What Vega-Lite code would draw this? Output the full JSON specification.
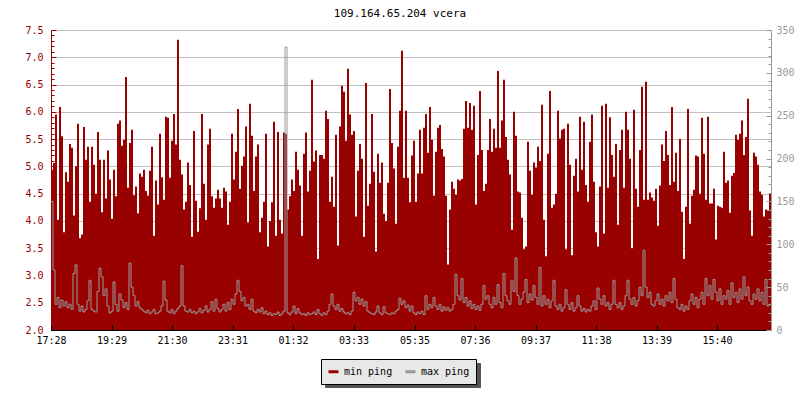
{
"$schema": "https://vega.github.io/schema/vega-lite/v6.json",
"width": 720, "height": 300,
"autosize": {"type": "none"},
"padding": {"left": 51, "top": 30, "right": 29, "bottom": 70},
"background": "white",
"config": {"view": {"stroke": null}},
"title": {"text": "109.164.65.204 vcera", "font": "DejaVu Sans Mono", "fontSize": 11, "fontWeight": "normal", "color": "black", "anchor": "middle", "frame": "group", "baseline": "middle", "offset": 0, "dx": -11},
"data": {"values": [
{"m":0,"min":4.94,"max":150},{"m":4,"min":5.06,"max":70},{"m":8,"min":5.95,"max":30},{"m":12,"min":4.02,"max":38},{"m":16,"min":6.09,"max":26},{"m":20,"min":5.55,"max":35},{"m":24,"min":3.79,"max":28},{"m":28,"min":4.89,"max":33},{"m":32,"min":4.72,"max":26},{"m":36,"min":5.41,"max":30},
{"m":40,"min":5.34,"max":24},{"m":44,"min":4.1,"max":66},{"m":48,"min":5.0,"max":76},{"m":52,"min":5.78,"max":30},{"m":56,"min":3.68,"max":22},{"m":60,"min":3.75,"max":28},{"m":64,"min":5.72,"max":21},{"m":68,"min":5.12,"max":24},{"m":72,"min":5.36,"max":34},{"m":76,"min":4.35,"max":58},
{"m":80,"min":5.36,"max":24},{"m":84,"min":5.03,"max":22},{"m":88,"min":4.5,"max":21},{"m":92,"min":5.63,"max":45},{"m":96,"min":5.12,"max":72},{"m":100,"min":4.16,"max":62},{"m":104,"min":5.12,"max":40},{"m":108,"min":4.41,"max":48},{"m":112,"min":5.29,"max":28},{"m":116,"min":4.76,"max":20},
{"m":120,"min":4.04,"max":22},{"m":124,"min":4.94,"max":56},{"m":128,"min":4.45,"max":30},{"m":132,"min":5.78,"max":22},{"m":136,"min":5.84,"max":42},{"m":140,"min":5.38,"max":35},{"m":144,"min":5.49,"max":26},{"m":148,"min":6.64,"max":32},{"m":152,"min":4.61,"max":24},{"m":156,"min":5.43,"max":78},
{"m":160,"min":5.67,"max":50},{"m":164,"min":4.47,"max":40},{"m":168,"min":4.63,"max":28},{"m":172,"min":4.14,"max":33},{"m":176,"min":4.87,"max":26},{"m":180,"min":4.81,"max":24},{"m":184,"min":4.94,"max":22},{"m":188,"min":4.55,"max":20},{"m":192,"min":4.46,"max":23},{"m":196,"min":4.92,"max":19},
{"m":200,"min":5.36,"max":21},{"m":204,"min":3.73,"max":24},{"m":208,"min":4.74,"max":19},{"m":212,"min":4.3,"max":20},{"m":216,"min":5.6,"max":22},{"m":220,"min":4.8,"max":28},{"m":224,"min":4.39,"max":57},{"m":228,"min":5.91,"max":35},{"m":232,"min":5.89,"max":22},{"m":236,"min":4.79,"max":20},
{"m":240,"min":5.47,"max":24},{"m":244,"min":5.96,"max":19},{"m":248,"min":5.4,"max":22},{"m":252,"min":7.32,"max":25},{"m":256,"min":5.12,"max":28},{"m":260,"min":4.85,"max":75},{"m":264,"min":4.21,"max":28},{"m":268,"min":4.35,"max":22},{"m":272,"min":5.07,"max":21},{"m":276,"min":4.66,"max":24},
{"m":280,"min":3.71,"max":20},{"m":284,"min":5.65,"max":22},{"m":288,"min":4.37,"max":19},{"m":292,"min":3.8,"max":21},{"m":296,"min":4.23,"max":25},{"m":300,"min":5.96,"max":20},{"m":304,"min":4.68,"max":23},{"m":308,"min":4.02,"max":28},{"m":312,"min":5.4,"max":21},{"m":316,"min":5.69,"max":24},
{"m":320,"min":4.45,"max":33},{"m":324,"min":4.24,"max":22},{"m":328,"min":4.41,"max":36},{"m":332,"min":4.57,"max":25},{"m":336,"min":4.41,"max":21},{"m":340,"min":4.24,"max":24},{"m":344,"min":4.61,"max":30},{"m":348,"min":4.54,"max":22},{"m":352,"min":3.93,"max":32},{"m":356,"min":4.35,"max":24},
{"m":360,"min":5.6,"max":36},{"m":364,"min":4.76,"max":30},{"m":368,"min":5.27,"max":42},{"m":372,"min":6.05,"max":58},{"m":376,"min":4.59,"max":45},{"m":380,"min":5.01,"max":34},{"m":384,"min":5.18,"max":38},{"m":388,"min":5.73,"max":28},{"m":392,"min":3.97,"max":30},{"m":396,"min":6.15,"max":24},
{"m":400,"min":5.56,"max":36},{"m":404,"min":4.55,"max":22},{"m":408,"min":5.18,"max":20},{"m":412,"min":5.4,"max":24},{"m":416,"min":3.79,"max":21},{"m":420,"min":4.06,"max":26},{"m":424,"min":4.35,"max":19},{"m":428,"min":5.6,"max":22},{"m":432,"min":3.53,"max":18},{"m":436,"min":4.0,"max":20},
{"m":440,"min":4.34,"max":17},{"m":444,"min":5.82,"max":19},{"m":448,"min":3.73,"max":18},{"m":452,"min":5.63,"max":21},{"m":456,"min":4.02,"max":17},{"m":460,"min":3.77,"max":19},{"m":464,"min":5.62,"max":22},{"m":468,"min":5.6,"max":330},{"m":472,"min":4.21,"max":20},{"m":476,"min":4.45,"max":18},
{"m":480,"min":4.76,"max":21},{"m":484,"min":4.55,"max":28},{"m":488,"min":5.27,"max":19},
{"m":492,"min":4.94,"max":25},{"m":496,"min":4.65,"max":20},{"m":500,"min":3.73,"max":18},{"m":504,"min":5.23,"max":19},{"m":508,"min":5.62,"max":17},{"m":512,"min":4.54,"max":20},{"m":516,"min":4.92,"max":18},{"m":520,"min":6.59,"max":19},{"m":524,"min":5.09,"max":21},{"m":528,"min":5.29,"max":18},
{"m":532,"min":3.3,"max":24},{"m":536,"min":5.21,"max":19},{"m":540,"min":5.21,"max":17},{"m":544,"min":5.14,"max":20},{"m":548,"min":6.02,"max":18},{"m":552,"min":5.87,"max":22},{"m":556,"min":4.35,"max":30},{"m":560,"min":4.81,"max":42},{"m":564,"min":4.26,"max":28},{"m":568,"min":5.58,"max":24},
{"m":572,"min":3.55,"max":30},{"m":576,"min":5.73,"max":22},{"m":580,"min":6.48,"max":25},{"m":584,"min":6.37,"max":21},{"m":588,"min":5.47,"max":19},{"m":592,"min":6.79,"max":20},{"m":596,"min":5.95,"max":18},{"m":600,"min":5.58,"max":22},{"m":604,"min":5.65,"max":44},{"m":608,"min":4.08,"max":34},
{"m":612,"min":4.92,"max":38},{"m":616,"min":5.41,"max":30},{"m":620,"min":5.14,"max":36},{"m":624,"min":3.71,"max":28},{"m":628,"min":6.53,"max":33},{"m":632,"min":4.28,"max":22},{"m":636,"min":4.68,"max":20},{"m":640,"min":5.96,"max":19},{"m":644,"min":4.9,"max":18},{"m":648,"min":3.44,"max":21},
{"m":652,"min":5.23,"max":28},{"m":656,"min":4.7,"max":20},{"m":660,"min":5.07,"max":18},{"m":664,"min":4.13,"max":27},{"m":668,"min":4.0,"max":20},{"m":672,"min":4.7,"max":19},{"m":676,"min":6.42,"max":18},{"m":680,"min":5.43,"max":20},{"m":684,"min":4.96,"max":19},{"m":688,"min":3.95,"max":22},
{"m":692,"min":5.36,"max":24},{"m":696,"min":6.02,"max":37},{"m":700,"min":7.12,"max":30},{"m":704,"min":4.79,"max":34},{"m":708,"min":6.02,"max":26},{"m":712,"min":4.79,"max":29},{"m":716,"min":4.34,"max":22},{"m":720,"min":5.2,"max":28},{"m":724,"min":5.47,"max":20},{"m":728,"min":4.35,"max":18},
{"m":732,"min":4.87,"max":21},{"m":736,"min":5.67,"max":19},{"m":740,"min":4.87,"max":22},{"m":744,"min":5.71,"max":18},{"m":748,"min":5.96,"max":40},{"m":752,"min":5.25,"max":24},{"m":756,"min":6.09,"max":30},{"m":760,"min":5.49,"max":26},{"m":764,"min":4.46,"max":38},{"m":768,"min":5.27,"max":28},
{"m":772,"min":5.71,"max":24},{"m":776,"min":5.76,"max":30},{"m":780,"min":5.32,"max":22},{"m":784,"min":5.18,"max":27},{"m":788,"min":4.46,"max":23},{"m":792,"min":3.2,"max":26},{"m":796,"min":4.21,"max":22},{"m":800,"min":4.72,"max":24},{"m":804,"min":4.59,"max":30},{"m":808,"min":4.48,"max":65},
{"m":812,"min":4.76,"max":40},{"m":816,"min":4.74,"max":35},{"m":820,"min":4.77,"max":60},{"m":824,"min":5.69,"max":32},{"m":828,"min":6.2,"max":38},{"m":832,"min":5.71,"max":28},{"m":836,"min":6.16,"max":34},{"m":840,"min":5.67,"max":25},{"m":844,"min":6.11,"max":30},{"m":848,"min":4.3,"max":24},
{"m":852,"min":5.21,"max":28},{"m":856,"min":6.38,"max":23},{"m":860,"min":5.3,"max":30},{"m":864,"min":4.55,"max":52},{"m":868,"min":4.68,"max":36},{"m":872,"min":5.3,"max":40},{"m":876,"min":5.87,"max":30},{"m":880,"min":5.27,"max":26},{"m":884,"min":5.69,"max":38},{"m":888,"min":5.34,"max":30},
{"m":892,"min":6.75,"max":53},{"m":896,"min":5.34,"max":32},{"m":900,"min":5.84,"max":26},{"m":904,"min":6.59,"max":66},{"m":908,"min":5.54,"max":40},{"m":912,"min":5.12,"max":34},{"m":916,"min":4.85,"max":30},{"m":920,"min":3.84,"max":58},{"m":924,"min":6.0,"max":45},{"m":928,"min":5.56,"max":84},
{"m":932,"min":4.54,"max":40},{"m":936,"min":4.52,"max":30},{"m":940,"min":4.06,"max":36},{"m":944,"min":3.48,"max":44},{"m":948,"min":3.53,"max":59},{"m":952,"min":5.45,"max":32},{"m":956,"min":4.92,"max":42},{"m":960,"min":4.48,"max":35},{"m":964,"min":5.07,"max":52},{"m":968,"min":4.98,"max":38},
{"m":972,"min":5.36,"max":30},{"m":976,"min":5.1,"max":73},
{"m":980,"min":6.13,"max":28},{"m":984,"min":4.02,"max":40},{"m":988,"min":3.35,"max":30},{"m":992,"min":5.23,"max":36},{"m":996,"min":6.38,"max":26},{"m":1000,"min":4.24,"max":34},{"m":1004,"min":4.3,"max":58},{"m":1008,"min":4.5,"max":28},{"m":1012,"min":6.02,"max":24},{"m":1016,"min":5.51,"max":30},
{"m":1020,"min":5.67,"max":22},{"m":1024,"min":5.69,"max":26},{"m":1028,"min":3.48,"max":47},{"m":1032,"min":5.78,"max":30},{"m":1036,"min":5.03,"max":24},{"m":1040,"min":3.37,"max":32},{"m":1044,"min":4.83,"max":22},{"m":1048,"min":5.14,"max":26},{"m":1052,"min":4.54,"max":40},{"m":1056,"min":5.91,"max":28},
{"m":1060,"min":4.94,"max":22},{"m":1064,"min":5.82,"max":25},{"m":1068,"min":4.66,"max":21},{"m":1072,"min":4.35,"max":24},{"m":1076,"min":5.45,"max":22},{"m":1080,"min":5.95,"max":28},{"m":1084,"min":4.72,"max":34},{"m":1088,"min":3.79,"max":24},{"m":1092,"min":3.53,"max":49},{"m":1096,"min":4.63,"max":36},
{"m":1100,"min":6.11,"max":30},{"m":1104,"min":3.77,"max":40},{"m":1108,"min":6.15,"max":28},{"m":1112,"min":4.61,"max":32},{"m":1116,"min":5.9,"max":24},{"m":1120,"min":5.21,"max":30},{"m":1124,"min":4.81,"max":58},{"m":1128,"min":5.41,"max":30},{"m":1132,"min":3.93,"max":26},{"m":1136,"min":5.3,"max":32},
{"m":1140,"min":5.67,"max":24},{"m":1144,"min":4.61,"max":28},{"m":1148,"min":6.0,"max":40},{"m":1152,"min":5.67,"max":58},{"m":1156,"min":5.14,"max":36},{"m":1160,"min":3.5,"max":30},{"m":1164,"min":6.04,"max":38},{"m":1168,"min":4.59,"max":28},{"m":1172,"min":4.26,"max":34},{"m":1176,"min":5.3,"max":50},
{"m":1180,"min":6.46,"max":40},{"m":1184,"min":4.39,"max":93},{"m":1188,"min":6.55,"max":50},{"m":1192,"min":4.39,"max":38},{"m":1196,"min":4.52,"max":44},{"m":1200,"min":4.43,"max":30},{"m":1204,"min":4.37,"max":28},{"m":1208,"min":4.59,"max":34},{"m":1212,"min":3.91,"max":42},{"m":1216,"min":4.65,"max":30},
{"m":1220,"min":5.4,"max":36},{"m":1224,"min":5.1,"max":28},{"m":1228,"min":5.65,"max":40},{"m":1232,"min":5.21,"max":34},{"m":1236,"min":4.66,"max":44},{"m":1240,"min":6.09,"max":32},{"m":1244,"min":4.72,"max":60},{"m":1248,"min":5.25,"max":36},{"m":1252,"min":4.55,"max":26},{"m":1256,"min":5.5,"max":24},
{"m":1260,"min":4.17,"max":30},{"m":1264,"min":3.3,"max":22},{"m":1268,"min":4.26,"max":28},{"m":1272,"min":6.05,"max":24},{"m":1276,"min":3.95,"max":34},{"m":1280,"min":4.46,"max":42},{"m":1284,"min":4.57,"max":30},{"m":1288,"min":5.2,"max":38},{"m":1292,"min":5.18,"max":26},{"m":1296,"min":4.5,"max":36},
{"m":1300,"min":5.89,"max":44},{"m":1304,"min":5.23,"max":30},{"m":1308,"min":4.39,"max":60},{"m":1312,"min":5.91,"max":40},{"m":1316,"min":4.32,"max":52},{"m":1320,"min":4.32,"max":36},{"m":1324,"min":4.59,"max":59},{"m":1328,"min":3.66,"max":44},{"m":1332,"min":4.28,"max":34},{"m":1336,"min":4.26,"max":48},
{"m":1340,"min":4.24,"max":30},{"m":1344,"min":5.27,"max":40},{"m":1348,"min":4.7,"max":36},{"m":1352,"min":4.74,"max":46},{"m":1356,"min":4.15,"max":30},{"m":1360,"min":4.83,"max":55},{"m":1364,"min":4.88,"max":38},{"m":1368,"min":5.58,"max":44},{"m":1372,"min":5.49,"max":32},{"m":1376,"min":5.6,"max":48},
{"m":1380,"min":5.84,"max":36},{"m":1384,"min":5.21,"max":62},{"m":1388,"min":5.54,"max":40},{"m":1392,"min":6.24,"max":50},{"m":1396,"min":4.19,"max":34},{"m":1400,"min":3.73,"max":30},{"m":1404,"min":5.25,"max":42},{"m":1408,"min":5.18,"max":36},{"m":1412,"min":5.03,"max":48},{"m":1416,"min":4.54,"max":34},
{"m":1420,"min":4.48,"max":44},{"m":1424,"min":4.08,"max":30},{"m":1428,"min":4.21,"max":59},{"m":1432,"min":4.19,"max":28},{"m":1436,"min":4.5,"max":30},{"m":1440,"min":4.5,"max":30}
]},
"layer": [
{"mark": {"type": "area", "color": "#990000", "interpolate": "step-after", "clip": true},
 "encoding": {
  "x": {"field": "m", "type": "quantitative", "scale": {"domain": [0, 1440], "nice": false, "zero": false},
        "axis": {"values": [0,121,242,363,484,605,727,848,969,1090,1211,1332],
                 "labelExpr": "timeFormat(datetime(2020,0,1,0,datum.value+1048),'%H:%M')",
                 "title": null, "grid": false, "domainColor": "black", "tickColor": "black", "tickSize": -5,
                 "labelPadding": 10, "labelFont": "DejaVu Sans Mono", "labelFontSize": 10, "labelColor": "black",
                 "labelFlush": false, "labelOverlap": false, "zindex": 1}},
  "y": {"field": "min", "type": "quantitative", "scale": {"domain": [2, 7.5], "nice": false, "zero": false},
        "axis": {"values": [2,2.1,2.2,2.3,2.4,2.5,2.6,2.7,2.8,2.9,3,3.1,3.2,3.3,3.4,3.5,3.6,3.7,3.8,3.9,4,4.1,4.2,4.3,4.4,4.5,4.6,4.7,4.8,4.9,5,5.1,5.2,5.3,5.4,5.5,5.6,5.7,5.8,5.9,6,6.1,6.2,6.3,6.4,6.5,6.6,6.7,6.8,6.9,7,7.1,7.2,7.3,7.4,7.5],
                 "labelExpr": "abs(datum.value*2-round(datum.value*2))<0.001 ? format(datum.value,'.1f') : ''",
                 "title": null, "grid": true, "gridColor": "#c0c0c0",
                 "gridOpacity": {"condition": {"test": "abs(datum.value*2-round(datum.value*2))<0.001", "value": 1}, "value": 0},
                 "tickSize": {"condition": {"test": "abs(datum.value*2-round(datum.value*2))<0.001", "value": -5}, "value": -3},
                 "tickColor": "#990000", "domainColor": "#990000", "labelColor": "#990000",
                 "labelFont": "DejaVu Sans Mono", "labelFontSize": 10, "labelPadding": 13, "labelOverlap": false, "labelFlush": false, "zindex": 0}},
  "opacity": {"datum": "a", "scale": {"domain": ["a", "b"], "range": [1, 1]},
              "legend": {"orient": "none", "legendX": 274, "legendY": 333, "direction": "horizontal", "title": null, "zindex": 0,
                         "symbolType": "square", "symbolSize": 144, "symbolOpacity": 0, "symbolStrokeWidth": 0,
                         "labelExpr": "''", "labelFontSize": 10,
                         "fillColor": "#555555", "strokeColor": "#555555", "padding": 6, "labelOffset": 4, "columnPadding": 111}}
 }},
{"mark": {"type": "line", "interpolate": "step-after", "strokeWidth": 1, "clip": true},
 "encoding": {
  "x": {"field": "m", "type": "quantitative"},
  "y": {"field": "max", "type": "quantitative", "scale": {"domain": [0, 350], "nice": false},
        "axis": {"orient": "right", "values": [0,10,20,30,40,50,60,70,80,90,100,110,120,130,140,150,160,170,180,190,200,210,220,230,240,250,260,270,280,290,300,310,320,330,340,350],
                 "labelExpr": "datum.value % 50 == 0 ? datum.label : ''",
                 "title": null, "grid": false,
                 "tickSize": {"condition": {"test": "datum.value % 50 == 0", "value": -5}, "value": -3},
                 "tickColor": "#999999", "domainColor": "#999999", "labelColor": "#999999",
                 "labelFont": "DejaVu Sans Mono", "labelFontSize": 10, "labelPadding": 10, "labelOverlap": false, "labelFlush": false, "zindex": 1}},
  "color": {"datum": "max ping", "scale": {"domain": ["min ping", "max ping"], "range": ["#990000", "#999999"]},
            "legend": {"orient": "none", "legendX": 270, "legendY": 329, "direction": "horizontal", "title": null, "zindex": 1,
                       "symbolType": "stroke", "symbolSize": 100, "symbolStrokeWidth": 3,
                       "labelFont": "DejaVu Sans Mono", "labelFontSize": 10, "labelColor": "black",
                       "labelExpr": "datum.label == 'max ping' ? datum.label + '\u00a0\u00a0' : datum.label",
                       "fillColor": "#e8e8e8", "strokeColor": "black", "padding": 6, "labelOffset": 4, "columnPadding": 6}}
 }}
],
"resolve": {"scale": {"y": "independent"}}
}
